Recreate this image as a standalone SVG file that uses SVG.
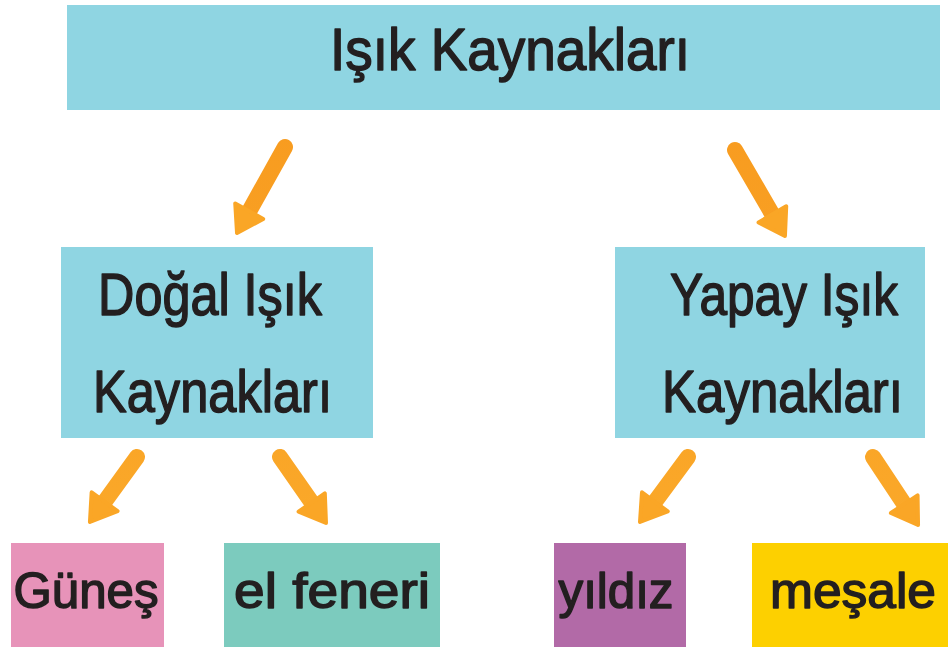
<svg xmlns="http://www.w3.org/2000/svg" width="948" height="653" viewBox="0 0 948 653">
<style>
.lbl{font-family:"Liberation Sans","DejaVu Sans",sans-serif;fill:#231f20;stroke:#231f20;stroke-width:1.5;stroke-linejoin:round;text-anchor:middle}
.big{font-size:60px}
.small{font-size:50px}
.arr{fill:none;stroke:url(#og);stroke-width:16;stroke-linecap:round;marker-end:url(#head)}
</style>
<defs>
<linearGradient id="og" gradientUnits="userSpaceOnUse" x1="0" y1="0" x2="0" y2="653">
<stop offset="0" stop-color="#f7981d"/>
<stop offset="1" stop-color="#fbac2c"/>
</linearGradient>
<marker id="head" markerUnits="userSpaceOnUse" viewBox="-10 -21 34 42" refX="0" refY="0" markerWidth="34" markerHeight="42" orient="auto">
<path d="M-7,-16 L18,0 L-7,16 Z" fill="#faa626" stroke="#faa626" stroke-width="4" stroke-linejoin="round"/>
</marker>
</defs>
<rect width="948" height="653" fill="#ffffff"/>

<g id="connectors">
<path class="arr" d="M285,147 L245.8,217.3"/>
<path class="arr" d="M735,150 L775.9,220.4"/>
<path class="arr" d="M137,457 L100.5,507.4"/>
<path class="arr" d="M280,457 L315.7,508.2"/>
<path class="arr" d="M688,457 L650.7,507.5"/>
<path class="arr" d="M873,457 L908.1,510"/>
</g>

<g id="root">
<rect x="67" y="5" width="873" height="105" fill="#8fd5e2"/>
<text class="lbl big" x="510" y="70" textLength="360" lengthAdjust="spacingAndGlyphs">Işık Kaynakları</text>
</g>

<g id="natural">
<rect x="61" y="247" width="312" height="191" fill="#8fd5e2"/>
<text class="lbl big" x="210" y="315" textLength="224" lengthAdjust="spacingAndGlyphs">Doğal Işık</text>
<text class="lbl big" x="212.5" y="412" textLength="239" lengthAdjust="spacingAndGlyphs">Kaynakları</text>
</g>

<g id="artificial">
<rect x="615" y="247" width="310" height="191" fill="#8fd5e2"/>
<text class="lbl big" x="784" y="315" textLength="228" lengthAdjust="spacingAndGlyphs">Yapay Işık</text>
<text class="lbl big" x="782.5" y="412" textLength="241" lengthAdjust="spacingAndGlyphs">Kaynakları</text>
</g>

<g id="gunes">
<rect x="11" y="543" width="153" height="104" fill="#e793b9"/>
<text class="lbl small" x="86" y="608" textLength="145" lengthAdjust="spacingAndGlyphs">Güneş</text>
</g>

<g id="elfeneri">
<rect x="224" y="543" width="216" height="104" fill="#7ccbbe"/>
<text class="lbl small" x="332" y="608" textLength="196" lengthAdjust="spacingAndGlyphs">el feneri</text>
</g>

<g id="yildiz">
<rect x="554" y="543" width="132" height="104" fill="#b26aa7"/>
<text class="lbl small" x="616" y="608" textLength="115" lengthAdjust="spacingAndGlyphs">yıldız</text>
</g>

<g id="mesale">
<rect x="752" y="543" width="196" height="104" fill="#fdd000"/>
<text class="lbl small" x="853" y="608" textLength="166" lengthAdjust="spacingAndGlyphs">meşale</text>
</g>
</svg>
